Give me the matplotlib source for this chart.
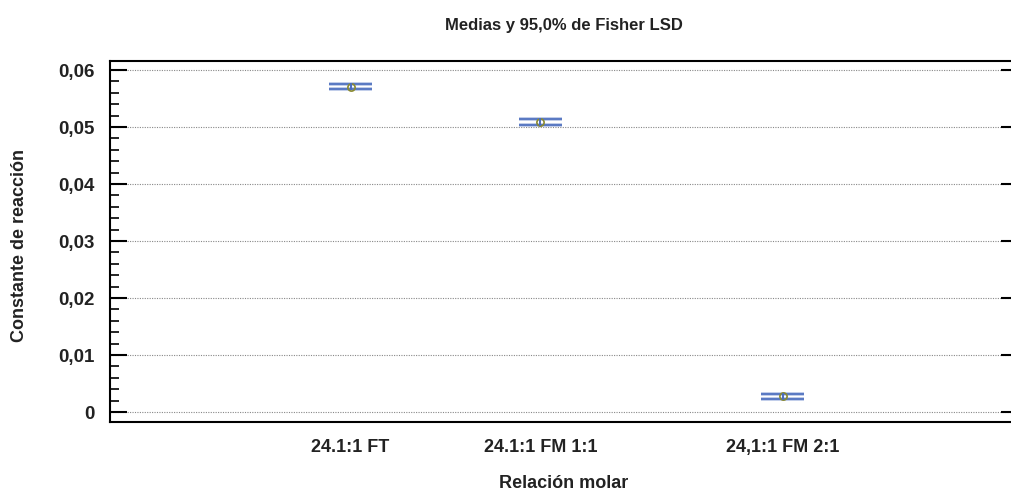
import matplotlib.pyplot as plt
import numpy as np

plt.rcParams['font.family'] = ['Liberation Sans', 'DejaVu Sans']
plt.rcParams['font.weight'] = 'bold'

grupos = ['24.1:1 FT', '24.1:1 FM 1:1', '24,1:1 FM 2:1']
posiciones = [0.265, 0.474, 0.741]
medias = [0.0571, 0.0509, 0.0028]
lsd = [0.00045, 0.00045, 0.00045]
yticks = [0, 0.01, 0.02, 0.03, 0.04, 0.05, 0.06]
ytick_labels = ['0', '0,01', '0,02', '0,03', '0,04', '0,05', '0,06']

fig = plt.figure(figsize=(10.11, 4.91), dpi=100)
# el eje derecho queda justo fuera del lienzo
ax = fig.add_axes([0.1088, 0.1405, 0.898, 0.7353])

azul = '#4a6cbd'
oliva = '#8a8a30'
mitad = 0.0237
for x, m, e in zip(posiciones, medias, lsd):
    for y in (m - e, m + e):
        ax.plot([x - mitad, x + mitad], [y, y], color='#b4c3e6', lw=2.6, solid_capstyle='butt', zorder=3)
        ax.plot([x - mitad, x + mitad], [y, y], color=azul, lw=1.2, solid_capstyle='butt', zorder=4)
    ax.plot([x, x], [m - e, m + e], color=azul, lw=1.4, zorder=6)
    ax.plot(x, m, 'o', ms=5.2, mfc='none', mec=oliva, mew=1.2, zorder=5)

ax.set_xlim(0, 1)
ax.set_ylim(-0.00175, 0.0616)
ax.set_yticks(yticks)
ax.set_yticklabels(ytick_labels, fontsize=13.5, fontweight='bold', color='#222222')
ax.set_yticks(np.arange(0, 0.0601, 0.002), minor=True)
ax.set_xticks(posiciones)
ax.set_xticklabels(grupos, fontsize=13, fontweight='bold', color='#222222')

ax.tick_params(axis='y', which='major', direction='in', length=12.5, width=1.5, pad=11, right=True)
ax.tick_params(axis='y', which='minor', direction='in', length=6.5, width=1.2)
ax.tick_params(axis='x', length=0, pad=12)

ax.grid(axis='y', which='major', color='#888888', ls=(0, (1, 1.2)), lw=0.8)

for s in ['left', 'bottom', 'top', 'right']:
    ax.spines[s].set_linewidth(1.5)

ax.set_xlabel('Relación molar', fontsize=13, fontweight='bold', color='#222222', va='center')
ax.xaxis.set_label_coords(0.5, -0.171)
ax.set_ylabel('Constante de reacción', fontsize=13, fontweight='bold', color='#222222', va='center')
ax.yaxis.set_label_coords(-0.1, 0.49)
ax.set_title('Medias y 95,0% de Fisher LSD', fontsize=12, fontweight='bold', pad=22, color='#222222')

fig.savefig('out.png', dpi=100)
